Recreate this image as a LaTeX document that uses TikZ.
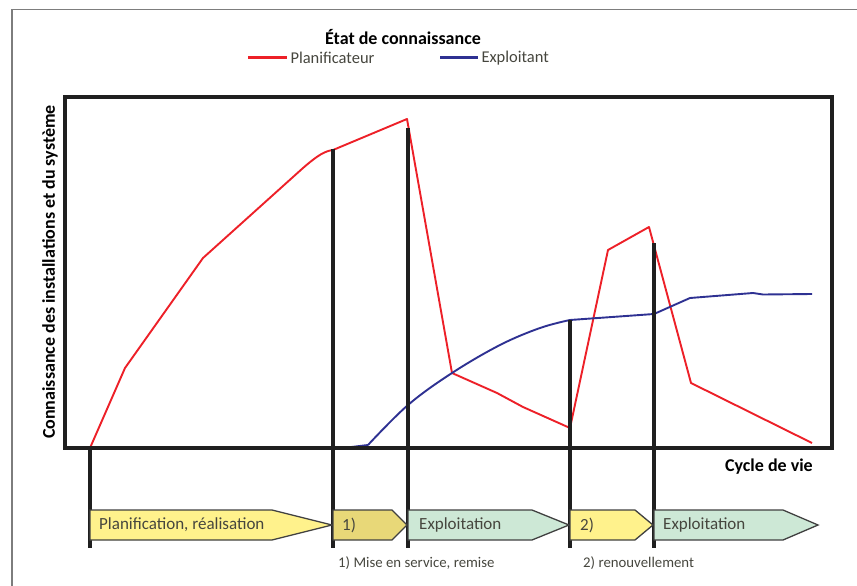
\documentclass[tikz,border=0pt]{standalone}
\usepackage{fontspec}
\setmainfont{Carlito}
\definecolor{planred}{RGB}{237,32,40}
\definecolor{explblue}{RGB}{46,49,146}
\definecolor{phaseyellow}{RGB}{255,242,140}
\definecolor{phasekhaki}{RGB}{232,216,120}
\definecolor{phasegreen}{RGB}{205,232,214}
\definecolor{framegray}{RGB}{125,125,125}
\definecolor{labelgray}{RGB}{70,70,62}
\tikzset{
  milestone/.style={line width=3.6pt, black!88},
  phase/.style={draw=black!75, line width=1.3pt, line join=miter},
  phasetext/.style={anchor=west, text=labelgray, inner sep=0pt, font=\fontsize{17}{19}\selectfont},
  notetext/.style={anchor=west, text=labelgray, inner sep=0pt, font=\fontsize{14.8}{17}\selectfont},
  legendtext/.style={anchor=west, inner sep=2pt, text=labelgray, font=\fontsize{16.5}{18}\selectfont},
  curve/.style={line width=1.9pt, line join=round},
  boldlabel/.style={inner sep=0pt, font=\fontsize{18}{20}\selectfont\bfseries}
}
\begin{document}
\begin{tikzpicture}[x=1pt,y=-1pt]
    \useasboundingbox (0,0) rectangle (857,586);
    % Outer frame
    \draw[framegray, line width=1.8pt] (857,9.5) -- (12,9.5) -- (12,586);
    % Title and legend
    \node[boldlabel] (title) at (403,37) {État de connaissance};
    \draw[planred, line width=3pt] (248,58) -- (287,58) node[legendtext] (legplan) {Planificateur};
    \draw[explblue, line width=3pt] (440,58) -- (478,58) node[legendtext] (legexpl) {Exploitant};
    % Knowledge of the planner
    \draw[curve, planred] (90,448) -- (125,368) -- (203,258) -- (303,168) .. controls (318,155) and (325,151) .. (333,150)
        -- (407,119) -- (452,373) -- (497,393) -- (523,407) -- (570,428) -- (608,250)
        -- (649,227) -- (691,383) -- (812,443);
    % Knowledge of the operator
    \draw[curve, explblue] (343,448) -- (368,445) plot[smooth, tension=0.6] coordinates {(368,445) (408,405) (452,373) (500,345) (540,328) (570,320)}
        -- (654,314) -- (690,298) -- (753,293) -- (763,294.5) -- (812,294);
    % Milestones of the life cycle
    \draw[milestone] (90,449) -- (90,548);
    \draw[milestone] (333,149) -- (333,548);
    \draw[milestone] (408,128) -- (408,548);
    \draw[milestone] (570,320) -- (570,548);
    \draw[milestone] (654,243) -- (654,548);
    % Chart box
    \draw[line width=3.8pt, black!88] (65,97) rectangle (832,448);
    % Axis labels
    \node[boldlabel, rotate=90] (ylabel) at (50,272) {Connaissance des installations et du système};
    \node[boldlabel, anchor=east] (xlabel) at (813,467) {Cycle de vie};
    % Phases
    \filldraw[phase, fill=phaseyellow] (90,510) -- (272,510) -- (332,525) -- (272,540) -- (90,540) -- cycle;
    \node[phasetext] (plan) at (99,525) {Planification, réalisation};
    \filldraw[phase, fill=phasekhaki] (333,510) -- (392,510) -- (407,525) -- (392,540) -- (333,540) -- cycle;
    \node[phasetext] (mes) at (342,525) {1)};
    \filldraw[phase, fill=phasegreen] (408,510) -- (532,510) -- (569,525) -- (532,540) -- (408,540) -- cycle;
    \node[phasetext] (expla) at (419,525) {Exploitation};
    \filldraw[phase, fill=phaseyellow] (570,510) -- (635,510) -- (653,525) -- (635,540) -- (570,540) -- cycle;
    \node[phasetext] (renouv) at (580,525) {2)};
    \filldraw[phase, fill=phasegreen] (654,510) -- (783,510) -- (818,525) -- (783,540) -- (654,540) -- cycle;
    \node[phasetext] (explb) at (663,525) {Exploitation};
    % Footnotes
    \node[notetext] (note1) at (338,563) {1) Mise en service, remise};
    \node[notetext] (note2) at (583,563) {2) renouvellement};
\end{tikzpicture}
\end{document}
